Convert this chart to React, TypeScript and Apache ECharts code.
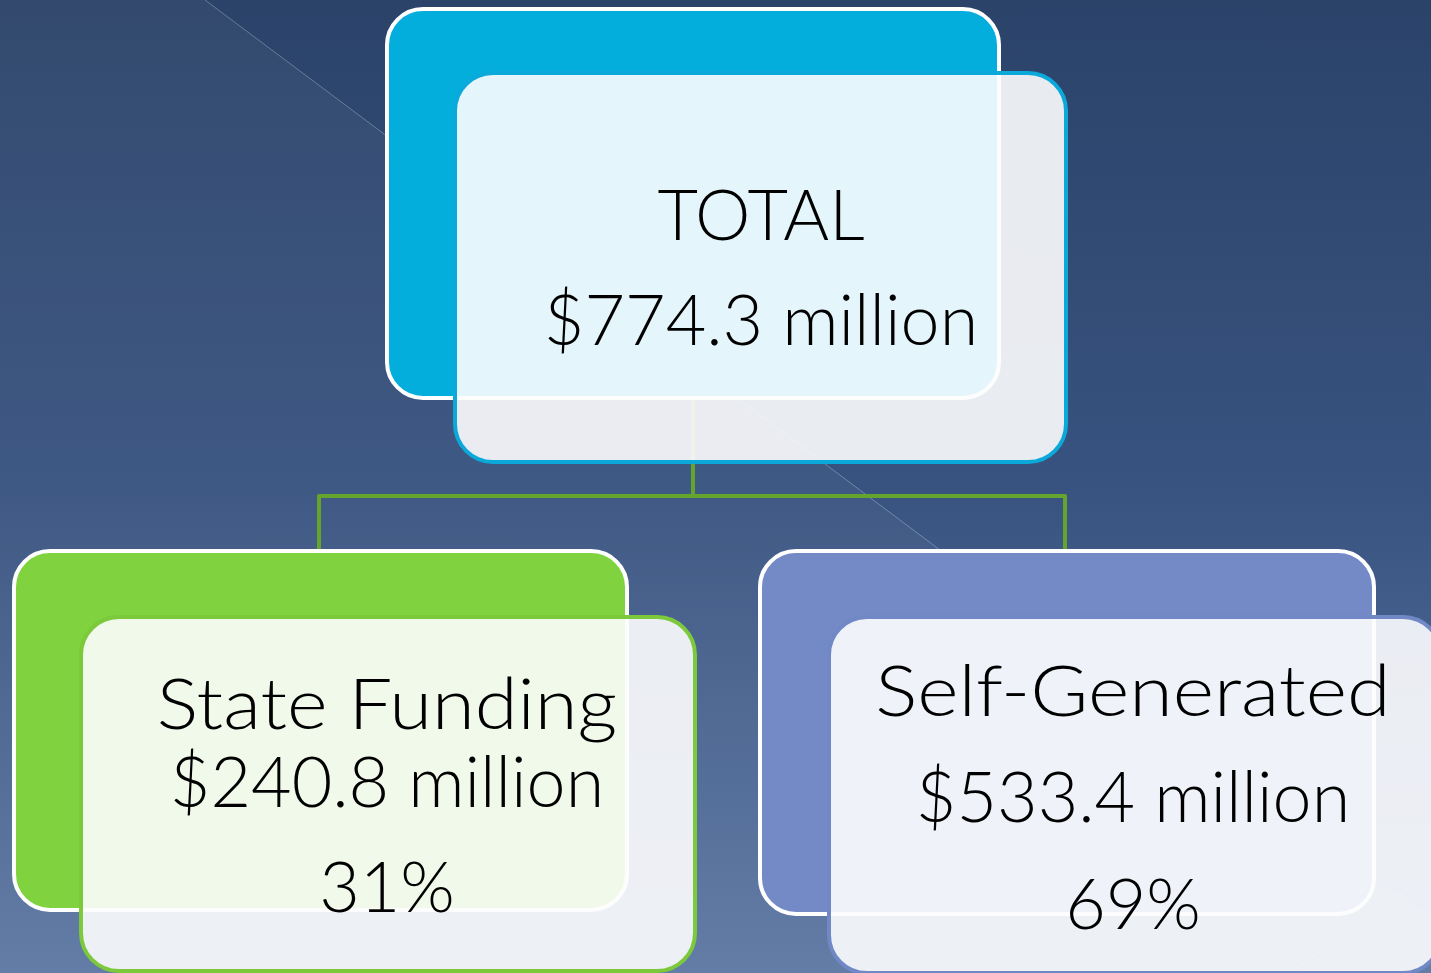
import React, { useEffect, useRef } from "react";
import * as echarts from "echarts";

// ---- data ----
const nodeTitles = ["TOTAL", "State Funding", "Self-Generated"];
const nodeAmounts = [774.3, 240.8, 533.4]; // $ million
const nodeShares: (number | null)[] = [null, 31, 69]; // % of total

// ---- styling / layout ----
const accentColors = ["#03aedd", "#80d23e", "#738ac7"];
const frameColors = ["#0aa9d9", "#7cc93b", "#7188c6"];
const backBoxes = [
  [387, 9, 612, 389],
  [14, 551, 613, 359],
  [760, 551, 614, 363],
];
const frontBoxes = [
  [455, 73, 611, 389],
  [81, 617, 614, 354],
  [829, 617, 612, 356],
];
const textCenters = [761, 387, 1133];
const textRows = [
  [213, 318],
  [702, 780, 885],
  [689, 795, 902],
];
const titleScaleX = [1, 1.11, 1.13];
const FONT = "Lato, 'Open Sans', sans-serif";

function linesFor(i: number): string[] {
  const out = [nodeTitles[i], `$${nodeAmounts[i].toFixed(1)} million`];
  if (nodeShares[i] != null) out.push(`${nodeShares[i]}%`);
  return out;
}

export default function App() {
  const ref = useRef<HTMLDivElement>(null);
  useEffect(() => {
    document.body.style.margin = "0";
    const chart = echarts.init(ref.current!, null, { renderer: "svg" });
    const W = 1431;
    const H = 973;
    const els: any[] = [];
    els.push({
      type: "rect",
      shape: { x: 0, y: 0, width: W, height: H },
      style: {
        fill: new echarts.graphic.LinearGradient(0, 0, 0, 1, [
          { offset: 0, color: "#2b4369" },
          { offset: 0.5, color: "#385380" },
          { offset: 1, color: "#5d78a4" },
        ]),
      },
    });
    els.push({
      type: "polygon",
      shape: { points: [[0, 0], [205, 0], [1431, 917], [1431, 973], [0, 973]] },
      style: { fill: "rgba(255,255,255,0.04)" },
    });
    els.push({
      type: "line",
      shape: { x1: 205, y1: 0, x2: 940, y2: 550 },
      style: { stroke: "rgba(255,255,255,0.28)", lineWidth: 1 },
    });
    els.push({
      type: "line",
      shape: { x1: 1431, y1: 873, x2: 1290, y2: 973 },
      style: { stroke: "rgba(255,255,255,0.22)", lineWidth: 1 },
    });
    // connectors
    const conn = { stroke: "#65a52e", lineWidth: 4 };
    els.push({ type: "line", shape: { x1: 693, y1: 398, x2: 693, y2: 496 }, style: conn });
    els.push({
      type: "polyline",
      shape: { points: [[319, 551], [319, 496], [1065, 496], [1065, 551]] },
      style: { ...conn, fill: null, lineJoin: "round" },
    });
    for (let i = 0; i < nodeTitles.length; i++) {
      const [bx, by, bw, bh] = backBoxes[i];
      els.push({
        type: "rect",
        shape: { x: bx, y: by, width: bw, height: bh, r: 36 },
        style: { fill: accentColors[i], stroke: "#ffffff", lineWidth: 4 },
      });
      const [fx, fy, fw, fh] = frontBoxes[i];
      els.push({
        type: "rect",
        shape: { x: fx, y: fy, width: fw, height: fh, r: 38 },
        style: { fill: "rgba(253,253,254,0.9)", stroke: frameColors[i], lineWidth: 4 },
      });
    }
    for (let i = 0; i < nodeTitles.length; i++) {
      const lines = linesFor(i);
      lines.forEach((t, k) => {
        els.push({
          type: "text",
          x: textCenters[i],
          y: textRows[i][k],
          scaleX: k === 0 ? titleScaleX[i] : 1,
          style: {
            text: t,
            fill: "#000000",
            fontSize: 70,
            fontFamily: FONT,
            fontWeight: 300,
            align: "center",
            verticalAlign: "middle",
          },
        });
      });
    }
    chart.setOption({ animation: false, graphic: { elements: els } });
    return () => chart.dispose();
  }, []);
  return <div ref={ref} style={{ width: 1431, height: 973, position: "fixed", left: 0, top: 0 }} />;
}
